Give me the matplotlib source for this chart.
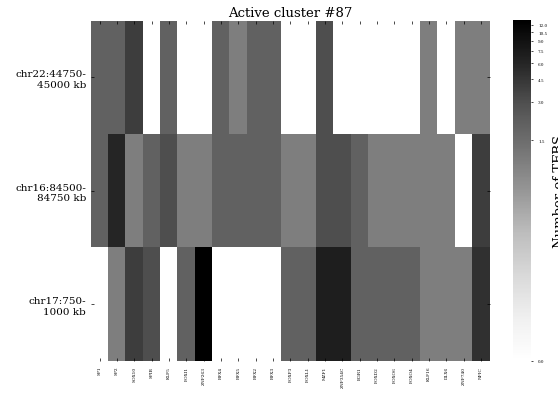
import numpy as np
import matplotlib
matplotlib.use("Agg")
import matplotlib.pyplot as plt
from matplotlib.colors import FuncNorm

plt.rcParams['font.family'] = ['DejaVu Serif']

# transcription factors (columns) and regions (rows)
tfs = ['SP1', 'SP2', 'SOX10', 'SPIB', 'KLF5', 'FOXI1', 'ZNF263', 'RFX4', 'RFX5',
       'RFX2', 'RFX3', 'FOXP3', 'FOXL1', 'MZF1', 'ZNF354C', 'EGR1', 'FOXD2',
       'FOXO6', 'FOXO4', 'KLF16', 'DLX6', 'ZNF740', 'NFIC']
regions = ['chr22:44750-\n45000 kb', 'chr16:84500-\n84750 kb', 'chr17:750-\n1000 kb']

chr22 = [2, 2, 4, 0, 2, 0, 0, 2, 1, 2, 2, 0, 0, 3, 0, 0, 0, 0, 0, 1, 0, 1, 1]
chr16 = [2, 6, 1, 2, 3, 1, 1, 2, 2, 2, 2, 1, 1, 3, 3, 2, 1, 1, 1, 1, 1, 0, 4]
chr17 = [0, 1, 4, 3, 0, 2, 13, 0, 0, 0, 0, 2, 2, 7, 7, 2, 2, 2, 2, 1, 1, 1, 5]

cbar_ticks = [0.0, 1.5, 3.0, 4.5, 6.0, 7.5, 9.0, 10.5, 12.0]

counts = np.array([chr22, chr16, chr17])

# log-like colour scaling so small counts are still visible
def fwd(v):
    return np.log1p(np.asarray(v, dtype=float) / 0.03)

def inv(v):
    return np.expm1(np.asarray(v, dtype=float)) * 0.03

norm = FuncNorm((fwd, inv), vmin=0, vmax=counts.max())

fig = plt.figure(figsize=(5.58, 4.06), dpi=100)
ax = fig.add_axes([0.1631, 0.1084, 0.7145, 0.8382])
cax = fig.add_axes([0.920, 0.109, 0.0317, 0.839])

mesh = ax.pcolor(counts, cmap='Greys', norm=norm)
ax.set_ylim(len(regions), 0)
ax.set_xlim(0, len(tfs))

ax.set_xticks(np.arange(len(tfs)) + 0.5)
ax.set_xticklabels(tfs, rotation=90, fontsize=3.2)
ax.set_yticks(np.arange(len(regions)) + 0.5)
ax.set_yticklabels(regions, fontsize=7.5)
ax.tick_params(top=True, right=True, direction='in', length=2, width=0.5)
for s in ax.spines.values():
    s.set_visible(False)

ax.set_title('Active cluster #87', fontsize=9.5, pad=3.5)

cb = fig.colorbar(mesh, cax=cax, ticks=cbar_ticks)
cb.outline.set_visible(False)
cb.ax.tick_params(labelsize=3, length=1.5, width=0.5)
cb.set_label('Number of TFBS', fontsize=9.5)

fig.savefig('out.png', dpi=100)
